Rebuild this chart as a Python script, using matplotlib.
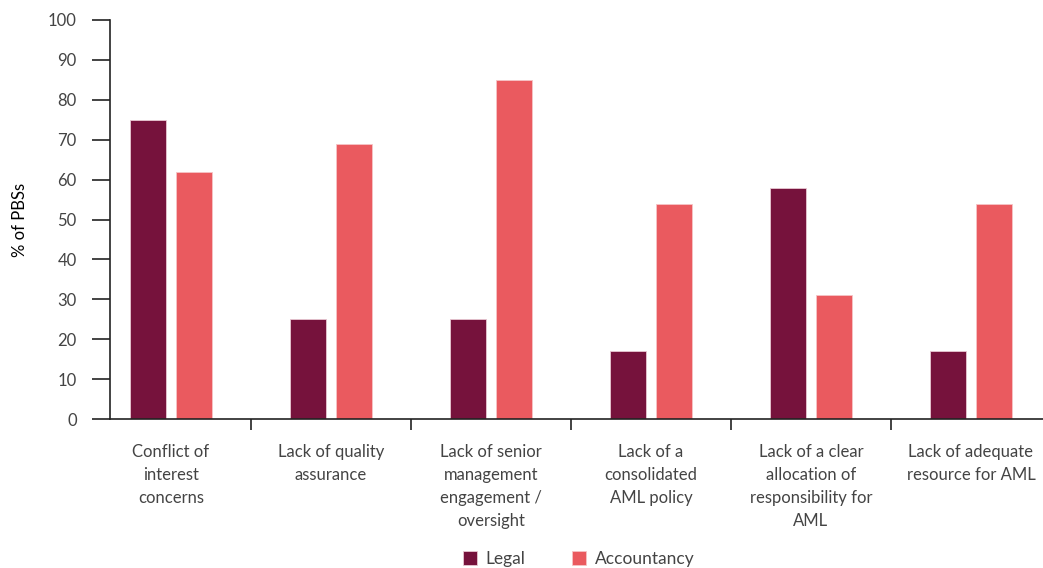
import matplotlib.pyplot as plt
import numpy as np

categories = [
    "Conflict of\ninterest\nconcerns",
    "Lack of quality\nassurance",
    "Lack of senior\nmanagement\nengagement /\noversight",
    "Lack of a\nconsolidated\nAML policy",
    "Lack of a clear\nallocation of\nresponsibility for\nAML",
    "Lack of adequate\nresource for AML",
]
legal = [75, 25, 25, 17, 58, 17]
accountancy = [62, 69, 85, 54, 31, 54]

LEGAL_COLOR = "#76123C"
ACC_COLOR = "#EA5A5F"
TEXT_COLOR = "#444444"

plt.rcParams.update({
    "font.family": ["Lato", "DejaVu Sans"],
    "font.size": 12,
    "text.color": TEXT_COLOR,
    "xtick.color": TEXT_COLOR,
    "ytick.color": TEXT_COLOR,
})

fig = plt.figure(figsize=(10.43, 5.68), dpi=100)
ax = fig.add_axes([110 / 1043, 1 - 419 / 568, 1 - 110 / 1043, (419 - 20) / 568])

x = np.arange(len(categories))
width = 0.225
off = 0.145
ax.bar(x - off, legal, width, color=LEGAL_COLOR, edgecolor="#E8C8D2", linewidth=0.6, label="Legal")
ax.bar(x + off, accountancy, width, color=ACC_COLOR, edgecolor="#F6C5C6", linewidth=0.6, label="Accountancy")

ax.set_ylim(0, 100)
ax.set_xlim(-0.381, 5.45)
ax.set_yticks(range(0, 101, 10))

# boundaries get the tick marks, centres get the labels
ax.set_xticks(np.arange(0.5, len(categories) - 0.5, 1))
ax.set_xticklabels([])
ax.set_xticks(x, minor=True)
ax.set_xticklabels(categories, minor=True, linespacing=1.55)
ax.tick_params(axis="x", which="major", length=8, width=1.2, color="#222222", direction="out")
ax.tick_params(axis="x", which="minor", length=0, pad=18)
ax.tick_params(axis="y", length=13, width=1.2, color="#222222", pad=11)

for side in ["top", "right"]:
    ax.spines[side].set_visible(False)
ax.spines["left"].set_linewidth(1.2)
ax.spines["bottom"].set_linewidth(1.2)
ax.spines["left"].set_color("#222222")
ax.spines["bottom"].set_color("#222222")

ax.set_ylabel("% of PBSs", labelpad=14)

fig.legend(loc="center", bbox_to_anchor=(0.555, 0.016), ncol=2, frameon=False,
           handlelength=0.8, handleheight=0.8, handletextpad=0.5, columnspacing=2.7,
           fontsize=12.5)

fig.savefig("out.png", dpi=100)
